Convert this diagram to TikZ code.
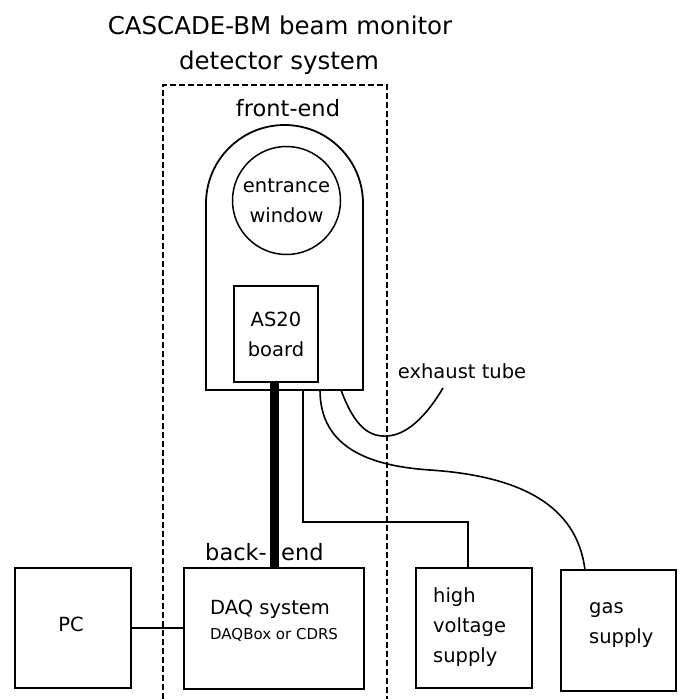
\documentclass[tikz,border=0pt]{standalone}
\usepackage{fontspec}
\setmainfont{DejaVu Sans}
\begin{document}
\begin{tikzpicture}[x=1pt,y=-1pt,
  lbl/.style={font=\fontsize{19.5}{30}\selectfont, inner sep=0pt},
  bigl/.style={font=\fontsize{22.5}{30}\selectfont, inner sep=0pt},
  ttl/.style={font=\fontsize{24.5}{30}\selectfont, inner sep=0pt},
  boxb/.style={draw, line width=2.2pt, inner sep=0pt},
  thinb/.style={draw, line width=1.5pt, inner sep=0pt},
  wire/.style={line width=1.6pt},
  fence/.style={line width=1.3pt, dash pattern=on 6pt off 3pt}]
\useasboundingbox (0,0) rectangle (678,699);
% title
\node[ttl] (t1) at (280,25) {CASCADE-BM beam monitor};
\node[ttl] (t2) at (279,63) {detector system};
% dashed enclosure
\coordinate (dbl) at (163,699);
\coordinate (dtl) at (163,85);
\coordinate (dtr) at (387,85);
\coordinate (dbr) at (387,699);
\draw[fence] (dbl) -- (dtl) -- (dtr) -- (dbr);
\node[bigl] (fe) at (288,108) {front-end};
% front-end housing
\draw[line width=1.8pt] (206,390) -- (206,203.5) arc[start angle=180, end angle=360, radius=78.5] -- (363,390) -- cycle;
\node[thinb, circle, minimum size=108pt, lbl, align=center, draw, line width=1.5pt] (win) at (286.5,200.5) {entrance\\window};
\node[thinb, minimum width=84pt, minimum height=96pt, lbl, align=center, draw, line width=1.5pt] (as20) at (276,334) {AS20\\board};
% bottom boxes
\node[boxb, minimum width=116pt, minimum height=120pt] (pc) at (73,628) {};
\node[lbl] (pct) at (71,624) {PC};
\node[boxb, minimum width=180pt, minimum height=121pt] (daq) at (274,628.5) {};
\node[lbl, anchor=west] (daqt) at (210,609) {DAQ system};
\node[font=\fontsize{15}{18}\selectfont, inner sep=0pt, anchor=west] (daqs) at (210,635) {DAQBox or CDRS};
\node[boxb, minimum width=116pt, minimum height=120pt] (hv) at (474,628) {};
\node[lbl, align=left, anchor=west] (hvt) at (433,627) {high\\voltage\\supply};
\node[boxb, minimum width=115pt, minimum height=121pt] (gas) at (618.5,630.5) {};
\node[lbl, align=left, anchor=west] (gast) at (589,625) {gas\\supply};
% back-end label
\node[bigl, anchor=east] (be1) at (267,552) {back-};
\node[bigl, anchor=west] (be2) at (281,552) {end};
% connectors
\draw[line width=9pt] (as20.south -| daq.north) -- (daq.north);
\draw[wire] (pc.east) -- (pc.east -| daq.west);
\coordinate (hvout) at (303,390);
\coordinate (hvin) at (468,568);
\draw[wire] (hvout) -- (303,522) -| (hvin);
\coordinate (gasout) at (320,390);
\coordinate (gasin) at (585,570);
\draw[wire] (gasout) .. controls (320,448) and (370,466) .. (430,470) .. controls (520,476) and (577,505) .. (gasin);
\coordinate (exout) at (341,390);
\coordinate (exend) at (443,388);
\draw[wire] (exout) .. controls (355,428) and (370,437) .. (387,436) .. controls (410,435) and (430,410) .. (exend);
\node[lbl] (ext) at (462,371) {exhaust tube};
\end{tikzpicture}
\end{document}
